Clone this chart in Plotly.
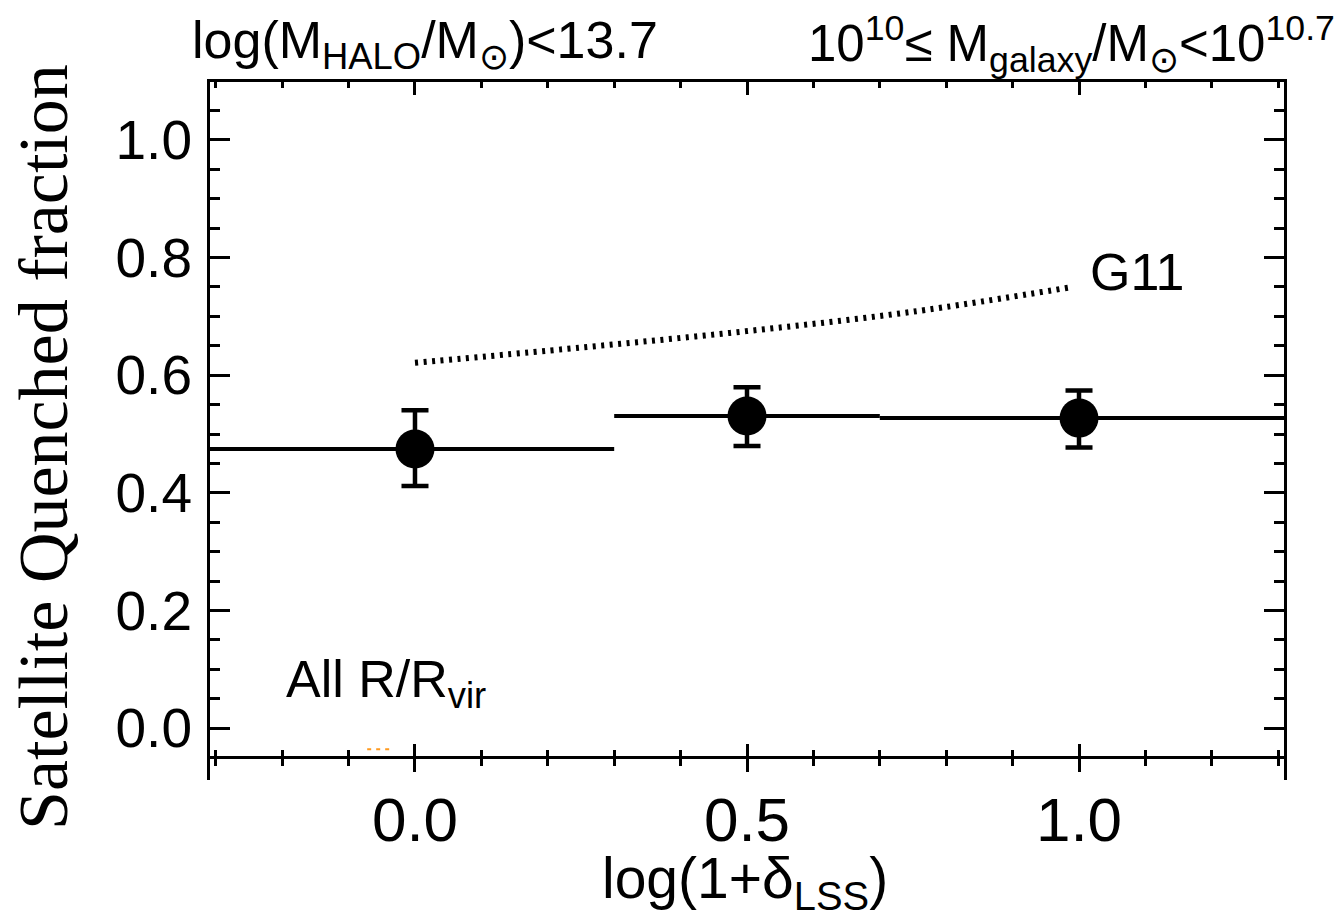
import plotly.graph_objects as go

# ---------------- data ----------------
bin_centers = [0.0, 0.5, 1.0]
quenched_frac = [0.4745, 0.5306, 0.527]
err_plus = [0.066, 0.049, 0.047]
err_minus = [0.063, 0.051, 0.050]
bin_lo = [-0.35, 0.3, 0.7]
bin_hi = [0.3, 0.7, 1.35]

g11_x = [0.0, 0.25, 0.5, 0.75, 0.99]
g11_y = [0.621, 0.647, 0.675, 0.708, 0.750]

orange_x = [-0.072, -0.037]
orange_y = [-0.036, -0.036]

x_tickvals = [0.0, 0.5, 1.0]
x_ticktext = ["0.0", "0.5", "1.0"]

# ---------------- geometry (page pixels; page body has 8px margin) ----------------
OFF = 8
W, H = 1344 - OFF, 918 - OFF
ML, MT = 210 - OFF, 82 - OFF
MR = 1344 - 1284
MB = 918 - 780
PW = 1284 - 210
PH = 780 - 82


def px(xpix):
    return (xpix - 210) / PW


def py(ypix):
    return (780 - ypix) / PH


XR = [-0.3087, 1.3087]
YR = [-0.0884, 1.0986]
bottom_pos = py(756.5)

SANS = "Liberation Sans, Arial, Helvetica, sans-serif"
SERIF = "Liberation Serif, Times New Roman, serif"

fig = go.Figure()

# bin-width horizontal lines
for lo, hi, v in zip(bin_lo, bin_hi, quenched_frac):
    fig.add_trace(go.Scatter(x=[lo, hi], y=[v, v], mode="lines",
                             line=dict(color="black", width=4),
                             showlegend=False, hoverinfo="skip"))

# G11 dotted curve
fig.add_trace(go.Scatter(x=g11_x, y=g11_y, mode="lines",
                         line=dict(color="black", width=6, dash="3px,5.5px", shape="spline"),
                         showlegend=False))

# small orange dotted segment
fig.add_trace(go.Scatter(x=orange_x, y=orange_y, mode="lines",
                         line=dict(color="#FF9A1F", width=2, dash="4px,5px"),
                         showlegend=False))

# points with error bars
fig.add_trace(go.Scatter(x=bin_centers, y=quenched_frac, mode="markers",
                         marker=dict(symbol="circle", size=39, color="black"),
                         error_y=dict(type="data", array=err_plus, arrayminus=err_minus,
                                      symmetric=False, color="black", thickness=4.5, width=13.5),
                         showlegend=False))

# dummy traces to activate overlay axes
fig.add_trace(go.Scatter(x=[None], y=[None], xaxis="x2", yaxis="y", showlegend=False))
fig.add_trace(go.Scatter(x=[None], y=[None], xaxis="x3", yaxis="y", showlegend=False))
fig.add_trace(go.Scatter(x=[None], y=[None], xaxis="x", yaxis="y2", showlegend=False))

common_x = dict(range=XR, showgrid=False, zeroline=False,
                tickvals=x_tickvals, ticktext=x_ticktext)

fig.update_layout(
    width=W, height=H,
    margin=dict(l=ML, r=MR, t=MT, b=MB, pad=0),
    paper_bgcolor="white", plot_bgcolor="white",
    font=dict(family=SANS, color="black"),
    showlegend=False,
    xaxis=dict(**common_x, anchor="free", position=bottom_pos,
               showline=True, linewidth=3, linecolor="black",
               ticks="outside", ticklen=13, tickwidth=3, tickcolor="black",
               minor=dict(ticks="outside", ticklen=7, tickwidth=2.5, tickcolor="black",
                          dtick=0.1, tick0=0.0),
               tickfont=dict(family=SANS, size=62, color="black"),
               ticklabelstandoff=-5),
    xaxis2=dict(**common_x, anchor="free", position=bottom_pos, overlaying="x",
                showline=False, showticklabels=False,
                ticks="inside", ticklen=13, tickwidth=3, tickcolor="black",
                minor=dict(ticks="inside", ticklen=7, tickwidth=2.5, tickcolor="black",
                           dtick=0.1, tick0=0.0)),
    xaxis3=dict(**common_x, anchor="y", side="top", overlaying="x",
                showline=True, linewidth=3, linecolor="black", showticklabels=False,
                ticks="inside", ticklen=13, tickwidth=3, tickcolor="black",
                minor=dict(ticks="inside", ticklen=6, tickwidth=2.5, tickcolor="black",
                           dtick=0.1, tick0=0.0)),
    yaxis=dict(range=YR, showgrid=False, zeroline=False, anchor="x",
               showline=True, linewidth=3, linecolor="black",
               tick0=0.0, dtick=0.2, tickformat=".1f",
               ticks="inside", ticklen=20, tickwidth=3, tickcolor="black",
               minor=dict(ticks="inside", ticklen=10, tickwidth=2.5, tickcolor="black",
                          dtick=0.05, tick0=0.0),
               tickfont=dict(family=SANS, size=55, color="black"),
               ticklabelstandoff=4),
    yaxis2=dict(range=YR, showgrid=False, zeroline=False, anchor="x", side="right",
                overlaying="y", showline=True, linewidth=3, linecolor="black",
                showticklabels=False, tick0=0.0, dtick=0.2,
                ticks="inside", ticklen=20, tickwidth=3, tickcolor="black",
                minor=dict(ticks="inside", ticklen=10, tickwidth=2.5, tickcolor="black",
                           dtick=0.05, tick0=0.0)),
)

annotations = [
    dict(text="log(M<sub>HALO</sub>/M<sub>⊙</sub>)<13.7", xref="paper", yref="paper",
         x=px(425), y=py(44), xanchor="center", yanchor="middle", showarrow=False,
         font=dict(family=SANS, size=52, color="black")),
    dict(text="10<sup>10</sup>≤ M<sub>galaxy</sub>/M<sub>⊙</sub><10<sup>10.7</sup>",
         xref="paper", yref="paper",
         x=px(1071), y=py(44), xanchor="center", yanchor="middle", showarrow=False,
         font=dict(family=SANS, size=51, color="black")),
    dict(text="log(1+δ<sub>LSS</sub>)", xref="paper", yref="paper",
         x=px(745), y=py(882), xanchor="center", yanchor="middle", showarrow=False,
         font=dict(family=SANS, size=57, color="black")),
    dict(text="Satellite Quenched fraction", xref="paper", yref="paper",
         x=px(44), y=py(447), xanchor="center", yanchor="middle", showarrow=False,
         textangle=-90, font=dict(family=SERIF, size=70, color="black")),
    dict(text="All R/R<sub>vir</sub>", xref="x", yref="y",
         x=-0.044, y=0.077, xanchor="center", yanchor="middle", showarrow=False,
         font=dict(family=SANS, size=52, color="black")),
    dict(text="G11", xref="x", yref="y",
         x=1.087, y=0.776, xanchor="center", yanchor="middle", showarrow=False,
         font=dict(family=SANS, size=52, color="black")),
]
fig.update_layout(annotations=annotations)

fig.write_html("out.html")
